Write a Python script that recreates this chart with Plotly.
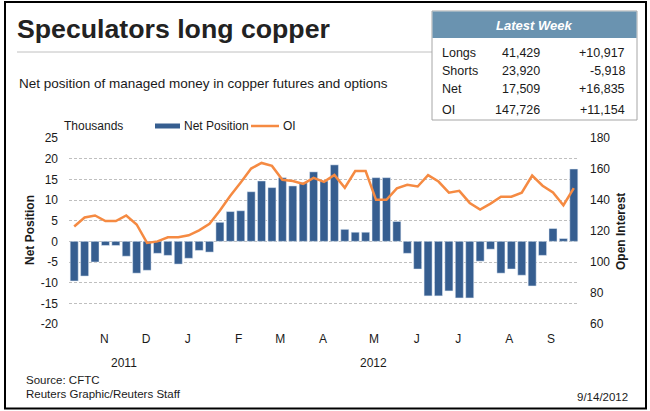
import plotly.graph_objects as go

# ---- data ----
net_position = [-9.6, -8.4, -5.0, -1.0, -1.0, -3.6, -7.7, -7.0, -2.9, -3.4, -5.5, -4.1, -2.2, -2.6,
                4.6, 7.2, 7.4, 12.0, 14.6, 13.0, 15.4, 13.4, 14.2, 16.8, 14.6, 18.5, 2.9, 2.2, 2.2,
                15.4, 15.4, 4.8, -2.9, -6.7, -13.2, -13.2, -12.0, -13.7, -13.7, -4.8, -1.9, -7.7,
                -6.7, -8.2, -10.8, -3.4, 3.1, 0.67, 17.5]
open_interest = [122.9, 128.7, 130.0, 126.4, 126.4, 130.0, 124.2, 112.3, 113.3, 115.9, 115.9, 117.2,
                 120.4, 124.6, 133.2, 142.7, 151.3, 160.3, 163.9, 162.0, 153.0, 152.3, 150.4, 154.3,
                 151.7, 156.2, 147.9, 158.7, 158.7, 140.1, 140.1, 147.5, 149.8, 148.7, 156.0, 151.9,
                 144.7, 145.9, 138.1, 133.8, 137.7, 142.1, 142.1, 144.7, 155.8, 149.2, 144.8, 136.6,
                 147.7]
week_index = list(range(len(net_position)))

month_tick_pos = [2.9, 6.9, 10.9, 15.8, 19.8, 23.9, 28.8, 32.9, 36.9, 41.8, 45.8]
month_tick_text = ["N", "D", "J", "F", "M", "A", "M", "J", "J", "A", "S"]
year_labels = ["2011", "2012"]
year_label_pos = [4.8, 28.8]

left_ticks = [25, 20, 15, 10, 5, 0, -5, -10, -15, -20]
left_tick_text = ["25", "20", "15", "10", "5", "0", "-5", "-10", "-15", "-20"]
right_ticks = [180, 160, 140, 120, 100, 80, 60]

table_labels = ["Longs", "Shorts", "Net", "OI"]
table_values = ["41,429", "23,920", "17,509", "147,726"]
table_changes = ["+10,917", "-5,918", "+16,835", "+11,154"]

# ---- styling ----
W, H = 650, 411
L, R, T, B = 69, 579, 138, 324
BAR = "#365e90"
LINE = "#f58a42"
FONT = "Liberation Sans, Arial, sans-serif"
TXT = "#1a1a1a"


def xp(px):
    return (px - L) / (R - L)


def yp(py):
    return (B - py) / (B - T)


fig = go.Figure()
fig.add_trace(go.Bar(x=week_index, y=net_position, marker_color=BAR, name="Net Position",
                     yaxis="y", showlegend=False))
fig.add_trace(go.Scatter(x=week_index, y=open_interest, mode="lines", name="OI",
                         line=dict(color=LINE, width=2.5), yaxis="y2", showlegend=False))

shapes = []
ann = []

# outer border
shapes.append(dict(type="rect", xref="paper", yref="paper", x0=xp(5), x1=xp(646), y0=yp(2), y1=yp(408.5),
                   line=dict(color="black", width=2), fillcolor="rgba(0,0,0,0)", layer="above"))
# title rule
shapes.append(dict(type="line", xref="paper", yref="paper", x0=xp(17), x1=xp(432), y0=yp(52), y1=yp(52),
                   line=dict(color="#c0c0c0", width=1)))
# table
shapes.append(dict(type="rect", xref="paper", yref="paper", x0=xp(432), x1=xp(637), y0=yp(11), y1=yp(120),
                   line=dict(color="#a6a6a6", width=1), fillcolor="white"))
shapes.append(dict(type="rect", xref="paper", yref="paper", x0=xp(432.5), x1=xp(636.5), y0=yp(11.5), y1=yp(38),
                   line=dict(width=0), fillcolor="#6a93b0"))
# legend swatches
shapes.append(dict(type="rect", xref="paper", yref="paper", x0=xp(155), x1=xp(180), y0=yp(123.5), y1=yp(128.5),
                   line=dict(width=0), fillcolor=BAR))
shapes.append(dict(type="line", xref="paper", yref="paper", x0=xp(251), x1=xp(279), y0=yp(126), y1=yp(126),
                   line=dict(color=LINE, width=2.5)))


def text(px, py, s, size=12, anchor="left", bold=False, italic=False, color=TXT, angle=0):
    t = s
    if bold:
        t = "<b>" + t + "</b>"
    if italic:
        t = "<i>" + t + "</i>"
    ann.append(dict(xref="paper", yref="paper", x=xp(px), y=yp(py), text=t, showarrow=False,
                    xanchor=anchor, yanchor="middle", textangle=angle,
                    font=dict(family=FONT, size=size, color=color)))


text(15, 29, "Speculators long copper", size=26.7, bold=True, color="#222222")
text(17, 83, "Net position of managed money in copper futures and options", size=13.5)
text(533.7, 25, "Latest Week", size=13, bold=True, italic=True, color="white", anchor="center")
row_y = [53, 71, 89, 110]
for lab, val, chg, yy in zip(table_labels, table_values, table_changes, row_y):
    text(440, yy, lab, size=12.5)
    text(542, yy, val, size=12.5, anchor="right")
    text(627, yy, chg, size=12.5, anchor="right")

text(62, 126, "Thousands", size=12)
text(182, 126, "Net Position", size=12)
text(281, 126, "OI", size=12)

text(30, 230, "Net Position", size=12, bold=True, anchor="center", angle=-90)
text(621, 232, "Open Interest", size=12, bold=True, anchor="center", angle=-90)

for lbl, pos in zip(year_labels, year_label_pos):
    ann.append(dict(xref="x", yref="paper", x=pos, y=yp(363), text=lbl, showarrow=False,
                    xanchor="center", yanchor="middle", font=dict(family=FONT, size=12, color=TXT)))

text(24, 380, "Source: CFTC", size=11.5)
text(24, 394, "Reuters Graphic/Reuters Staff", size=11.5)
text(630, 397, "9/14/2012", size=11.5, anchor="right")

fig.update_layout(
    width=W, height=H,
    margin=dict(l=L, r=W - R, t=T, b=H - B, pad=0),
    paper_bgcolor="white", plot_bgcolor="white",
    bargap=0.23,
    font=dict(family=FONT, size=12, color=TXT),
    xaxis=dict(range=[-0.5, len(net_position) - 0.5], tickmode="array", tickvals=month_tick_pos,
               ticktext=month_tick_text, showgrid=False, zeroline=False, showline=False,
               ticks="", ticklabelstandoff=6, tickfont=dict(size=12)),
    yaxis=dict(range=[-20, 25], tickmode="array", tickvals=left_ticks, ticktext=left_tick_text,
               showgrid=True, gridcolor="#bfbfbf", griddash="3px,2px", gridwidth=1, zeroline=False,
               showline=False, ticks="", ticklabelstandoff=10, tickfont=dict(size=12)),
    yaxis2=dict(range=[60, 180], tickmode="array", tickvals=right_ticks, overlaying="y", side="right",
                showgrid=False, zeroline=False, showline=False, ticks="", ticklabelstandoff=10,
                tickfont=dict(size=12)),
    shapes=shapes, annotations=ann, showlegend=False,
)

fig.write_html("out.html")
